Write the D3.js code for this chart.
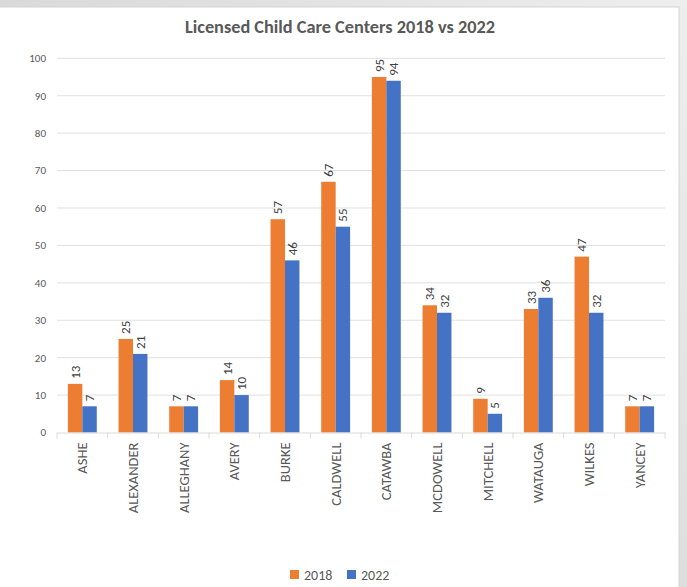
<!DOCTYPE html>
<html><head><meta charset="utf-8">
<script src="https://cdn.jsdelivr.net/npm/d3@7"></script>
<style>
html,body{margin:0;padding:0;}
body{width:687px;height:587px;overflow:hidden;background:#e9e9e9;}
</style></head>
<body>
<svg id="c" width="687" height="587"></svg>
<script>
const categories = ["ASHE","ALEXANDER","ALLEGHANY","AVERY","BURKE","CALDWELL","CATAWBA","MCDOWELL","MITCHELL","WATAUGA","WILKES","YANCEY"];
const values2018 = [13,25,7,14,57,67,95,34,9,33,47,7];
const values2022 = [7,21,7,10,46,55,94,32,5,36,32,7];
const seriesNames = ["2018","2022"];
const yTicks = [0,10,20,30,40,50,60,70,80,90,100];
const colors = ["#ED7D31","#4472C4"];
const title = "Licensed Child Care Centers 2018 vs 2022";

const svg = d3.select("#c");
const font = "Calibri, Carlito, 'Open Sans', sans-serif";

// marble-like background
const defs = svg.append("defs");
const g0 = defs.append("linearGradient").attr("id","bg").attr("x1","0").attr("y1","0").attr("x2","1").attr("y2","1");
g0.append("stop").attr("offset","0").attr("stop-color","#d9d9d9");
g0.append("stop").attr("offset","0.5").attr("stop-color","#eeeeee");
g0.append("stop").attr("offset","1").attr("stop-color","#dedede");
svg.append("rect").attr("width",687).attr("height",587).attr("fill","url(#bg)");
svg.append("rect").attr("x",-1).attr("y",7).attr("width",680).attr("height",600)
  .attr("fill","#fff").attr("stroke","#d4d4d4");

const m = {left:57, right:665, top:58.3, bottom:432.5};
const x = d3.scaleBand().domain(categories).range([m.left,m.right]).paddingInner(0.43).paddingOuter(0.215);
const x1 = d3.scaleBand().domain(seriesNames).range([0,x.bandwidth()]);
const y = d3.scaleLinear().domain([0,100]).range([m.bottom,m.top]);

// gridlines
svg.append("g").selectAll("line").data(yTicks.filter(d=>d>0)).join("line")
  .attr("x1",m.left).attr("x2",m.right).attr("y1",d=>y(d)).attr("y2",d=>y(d))
  .attr("stroke","#e0e0e0").attr("stroke-width",1);

// y labels
svg.append("g").selectAll("text").data(yTicks).join("text")
  .attr("x",46).attr("y",d=>y(d)).attr("dy","0.35em").attr("text-anchor","end")
  .attr("font-family",font).attr("font-size",11).attr("fill","#595959").text(d=>d);

// bars
const data = categories.map((c,i)=>({c, v:[values2018[i], values2022[i]]}));
const grp = svg.append("g").selectAll("g").data(data).join("g")
  .attr("transform",d=>`translate(${x(d.c)},0)`);
grp.selectAll("rect").data(d=>d.v.map((v,j)=>({v,s:seriesNames[j],j}))).join("rect")
  .attr("x",d=>x1(d.s)).attr("width",x1.bandwidth())
  .attr("y",d=>y(d.v)).attr("height",d=>y(0)-y(d.v))
  .attr("fill",d=>colors[d.j]);
grp.selectAll("text").data(d=>d.v.map((v,j)=>({v,s:seriesNames[j],j}))).join("text")
  .attr("transform",d=>`translate(${x1(d.s)+x1.bandwidth()/2},${y(d.v)-5}) rotate(-90)`)
  .attr("dy","0.35em").attr("text-anchor","start")
  .attr("font-family",font).attr("font-size",13).attr("fill","#404040").text(d=>d.v);

// x axis
const xa = svg.append("g").attr("transform",`translate(0,${m.bottom})`)
  .call(d3.axisBottom(x).tickSize(0).tickFormat(""));
xa.select(".domain").attr("stroke","#d9d9d9");
const bounds = d3.range(categories.length+1).map(i=>m.left + i*(m.right-m.left)/categories.length);
svg.append("g").selectAll("line").data(bounds).join("line")
  .attr("x1",d=>d).attr("x2",d=>d).attr("y1",m.bottom).attr("y2",m.bottom+6)
  .attr("stroke","#d9d9d9");
svg.append("g").selectAll("text").data(categories).join("text")
  .attr("transform",d=>`translate(${x(d)+x.bandwidth()/2},${m.bottom+10}) rotate(-90)`)
  .attr("dy","0.35em").attr("text-anchor","end")
  .attr("font-family",font).attr("font-size",14.5).attr("fill","#595959").text(d=>d);

// title
svg.append("text").attr("x",340).attr("y",33).attr("text-anchor","middle")
  .attr("font-family",font).attr("font-weight","bold").attr("font-size",19)
  .attr("fill","#595959").attr("textLength",310).attr("lengthAdjust","spacingAndGlyphs").text(title);

// legend
const lg = svg.append("g");
const legX = [290, 347];
seriesNames.forEach((s,i)=>{
  lg.append("rect").attr("x",legX[i]).attr("y",570).attr("width",9).attr("height",9).attr("fill",colors[i]);
  lg.append("text").attr("x",legX[i]+14).attr("y",575).attr("dy","0.35em")
    .attr("font-family",font).attr("font-size",14).attr("fill","#595959").text(s);
});
</script>
</body></html>
